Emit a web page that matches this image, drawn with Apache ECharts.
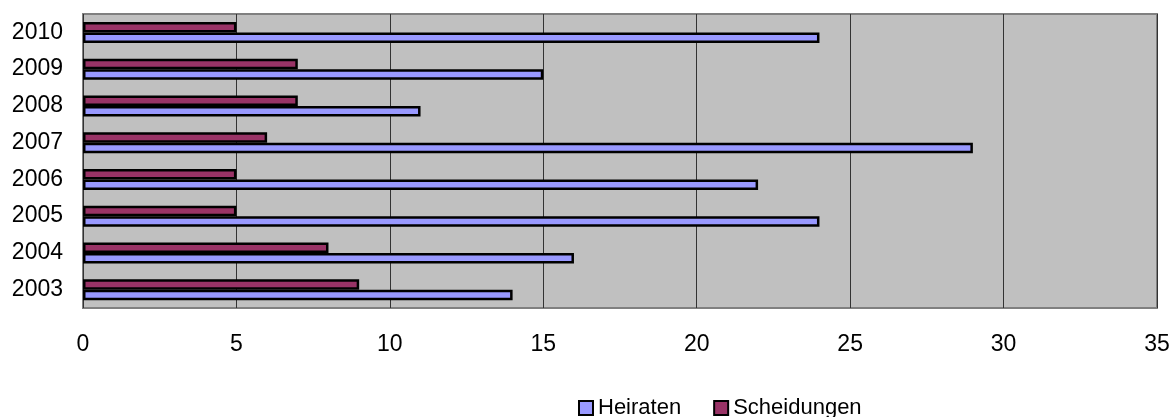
<!DOCTYPE html>
<html><head><meta charset="utf-8">
<script src="https://cdn.jsdelivr.net/npm/echarts@6/dist/echarts.min.js"></script>
<style>html,body{margin:0;padding:0;background:#fff}#c{width:1175px;height:417px}</style>
</head><body><div id="c"></div>
<script>
const years = ['2003','2004','2005','2006','2007','2008','2009','2010'];
const heiraten = [14,16,24,22,29,11,15,24];
const scheidungen = [9,8,5,5,6,7,7,5];
const xTicks = [0,5,10,15,20,25,30,35];

const chart = echarts.init(document.getElementById('c'));
const font = '"Liberation Sans", Arial, sans-serif';
chart.setOption({
  animation:false,
  textStyle:{fontFamily:font},
  grid:{left:83,top:14,right:18,bottom:109,show:true,backgroundColor:'#C0C0C0',borderColor:'#808080',borderWidth:2},
  xAxis:{type:'value',min:xTicks[0],max:xTicks[xTicks.length-1],interval:5,
    axisLine:{show:false},axisTick:{show:false},
    splitLine:{show:true,lineStyle:{color:'#333',width:1}},
    axisLabel:{color:'#000',fontSize:23,fontFamily:font,margin:25}},
  yAxis:{type:'category',data:years,axisLine:{show:false},axisTick:{show:false},
    axisLabel:{color:'#000',fontSize:23,fontFamily:font,margin:20}},
  legend:{top:392,left:573,itemWidth:14,itemHeight:14,itemGap:32,icon:'rect',
    textStyle:{color:'#000',fontSize:22,fontFamily:font},data:['Heiraten','Scheidungen']},
  series:[
    {name:'Scheidungen',type:'bar',data:scheidungen,barWidth:10.5,barGap:'0%',
      itemStyle:{color:'#993366',borderColor:'#000',borderWidth:2.5}},
    {name:'Heiraten',type:'bar',data:heiraten,barWidth:10.5,barGap:'0%',
      itemStyle:{color:'#9999FF',borderColor:'#000',borderWidth:2.5}}
  ]
});
</script></body></html>
